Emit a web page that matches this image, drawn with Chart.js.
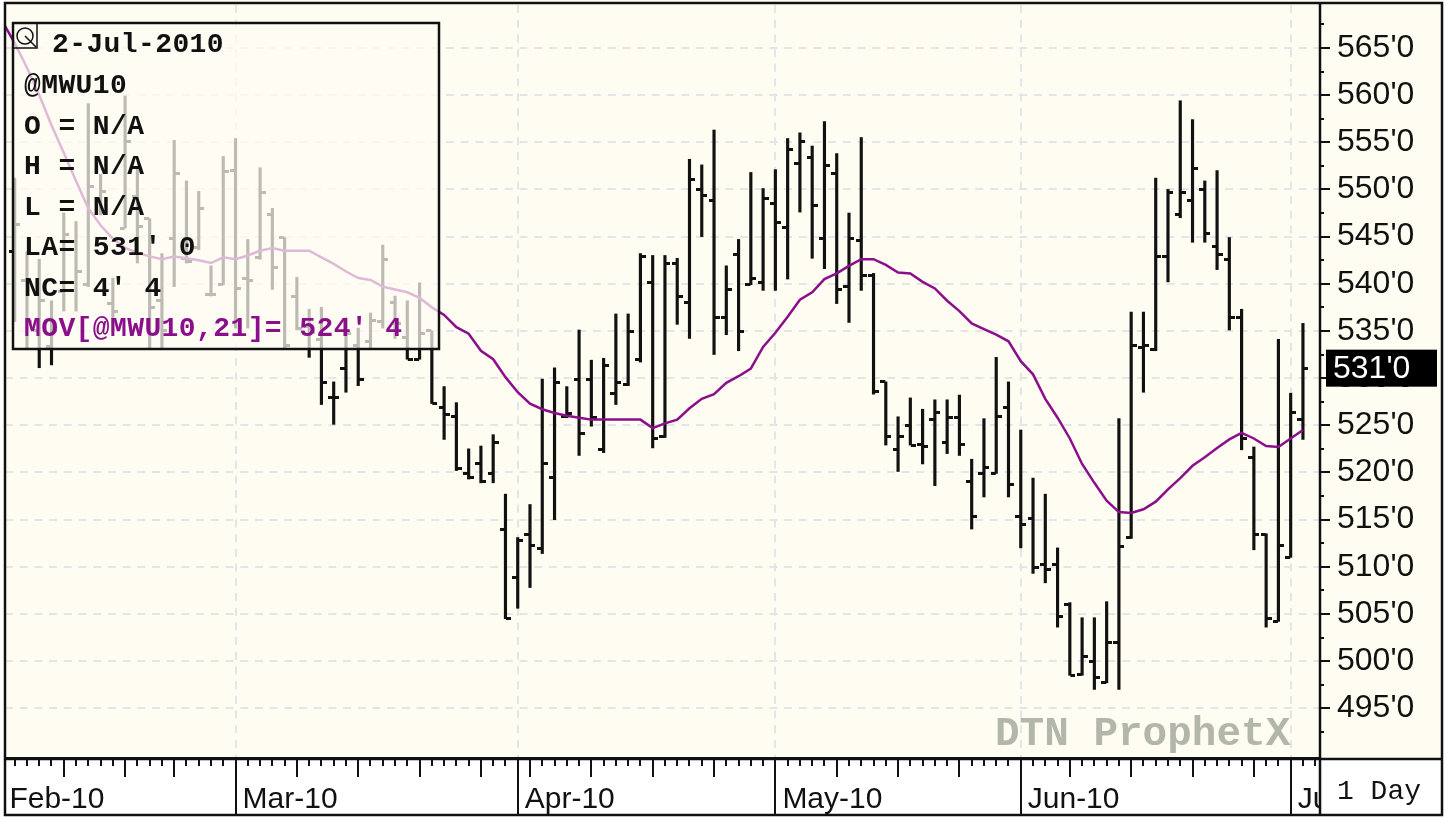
<!DOCTYPE html>
<html>
<head>
<meta charset="utf-8">
<title>@MWU10 daily</title>
<script src="https://cdn.jsdelivr.net/npm/chart.js@4"></script>
<style>
  html, body { margin: 0; padding: 0; background: #fff; }
  canvas { display: block; }
</style>
</head>
<body>
<canvas id="priceChart" width="1450" height="817"></canvas>
<script>
// Daily bars. Day 0 is 1 Feb (off the left edge), first bar is day 1
const firstBar = 1;
const highs = [551.2,543.4,542.6,538.2,547.5,546.6,559.1,551.6,540.6,559.9,552.2,546.9,543.2,555.2,550.9,549.8,541.9,553.5,555.4,544.7,552.3,548,544.9,540.7,537.3,537.5,529.6,536.4,535.3,536.9,544.1,538.7,538.2,540.1,535,529.1,527.4,522.5,522.8,524,517.7,513.1,516.6,529.9,531.1,529.1,535.1,531.9,532.1,536.8,536.8,543.2,543,543,542.7,553.2,552.6,556.3,541.9,544.7,551.8,550.1,552.1,555.4,556,554.6,557.2,553.8,547.5,555.5,541.1,529.6,525.9,527.9,526.7,527.7,527.7,528.2,521.4,525.7,532.2,529.6,524.5,519.4,517.7,512,506.2,504.6,504.6,506.3,525.7,537,537,551.2,550,559.4,557.4,550.9,552,544.9,537.3,522.7,513.5,534.1,528.4,535.8];
const lows = [536,533.1,531.1,531.4,537.1,537.1,539.7,547.3,535,545.9,542.2,533.2,533.2,539.7,542.2,543.6,538.7,539.9,535.3,535.3,542.6,539.4,533.2,535.1,532.2,527.2,525.1,528.5,529.2,533.2,535.3,534.2,532,532,527.3,523.5,520.2,519.3,518.9,518.9,504.5,505.6,507.8,511.4,515,525.8,521.8,524.9,522.1,527.2,529.2,531.7,522.6,523.7,535.7,534.2,545,532.5,534.6,532.9,539.9,539.3,539.3,540.5,547.6,542.7,541.6,537.9,535.9,539.3,528.3,522.9,520.1,522.9,520.9,518.6,522,521.8,514,517.4,519.9,517.4,512,509.3,508.3,503.6,498.5,498.5,497,497.7,497,513,528.5,532.9,540.2,547,544.4,544.4,541.5,535.1,522.4,511.8,503.6,504.2,511,523.5];
const opens = [543.4,540.3,535,533.4,539.2,544.5,539.9,548.7,537.9,545.9,549.3,546.9,538.2,544.8,542.7,543.8,538.9,539.9,552,540.6,542.8,547.3,544.9,538.7,535.5,534.1,527.9,531,533.5,533.9,536,538,534.3,532,535,526.9,525.9,519.9,521,519.9,513.9,508.9,513.4,511.9,519.5,525.9,529.8,529.8,522.4,528.4,529.3,532,540.1,523.8,542.1,538,550,548.8,536.4,543.1,539.9,540.1,548.5,546,552.7,553.4,544.8,551.7,539.7,544.6,540.9,529.6,522.4,525,523,525.6,523.2,525.8,519,519.9,519.9,526.9,515.3,515.1,510.2,510.2,506,498.6,500,497.7,502,513.1,533.2,533,542.9,547.3,548.8,550,544,542.6,536.4,521.6,513.4,504.2,511,525.6];
const closes = [546.3,536,538.2,535,545.2,541.3,550.3,549.8,537.1,555.1,546.1,537.5,535,551.7,542.4,548,538.9,551.9,539.5,540.3,549.7,541.7,533.5,535.3,534.8,529.5,527.9,534.7,529.8,536.1,542.6,535.8,532,534.7,527.3,526.1,520.4,519.5,519,523.2,504.5,512.8,512.3,521,529.5,526.3,524.1,525.8,531.3,529.5,534.9,542.9,523.6,542.1,538.6,551,549.4,536.4,539.4,534.9,540.6,549,546.5,554.2,555.1,548.3,552.5,539.4,544.8,540.9,528.6,523.8,523.8,522.9,522.7,526.4,525.8,523,515.3,520.5,525.9,518.7,514.5,509.9,509.7,504.7,498.5,500.5,498.3,502,512.1,533.5,533.5,542.9,549.7,549.7,552.2,545.3,543.1,536.4,523.6,513.4,504.5,512.3,526.4,531];

// 21 day moving average, starts one day before the first bar
const movAvg = [567.8,565.5,562.9,560,556.8,553.9,550.9,548,546.2,544.8,543.8,543.3,542.9,542.6,542.9,542.7,542.5,542.2,542.8,542.6,543,543.5,543.8,543.5,543.5,543.5,542.8,542.1,541.3,540.6,540.4,539.7,539.4,539.1,538.5,537.5,536.7,535.4,534.7,532.9,532,530.1,528.5,527.3,526.7,526.3,526,525.8,525.6,525.6,525.6,525.6,525.6,524.7,525.2,525.6,526.8,527.8,528.3,529.5,530.2,531,533.3,534.8,536.5,538.3,539.1,540.5,541.1,541.9,542.6,542.6,542,541.2,541.1,540.2,539.5,538.2,537.1,535.8,535.2,534.6,533.9,531.8,530.4,527.8,525.8,523.6,520.9,518.9,517,515.8,515.7,516.1,516.9,518.2,519.4,520.7,521.6,522.6,523.5,524.2,523.6,522.8,522.7,523.6,524.5];

// Axis ticks
const priceTicks = [495,500,505,510,515,520,525,530,535,540,545,550,555,560,565];
const monthDays = [0,19,42,63,83,105];
const monthNames = ["Feb-10","Mar-10","Apr-10","May-10","Jun-10","Jul-10"];
const weekDays = [5,10,14,24,29,34,39,43,48,53,58,68,73,78,87,92,97,102];
const lastDayTick = 107;

// Read-out box text
const infoLines = ["@MWU10","O = N/A","H = N/A","L = N/A","LA= 531' 0","NC= 4' 4"];
const infoDate = "2-Jul-2010";
const infoMov = "MOV[@MWU10,21]= 524' 4";

const CREAM = "#fffcf2";
const GRID = "#e3e6e8";
const INK = "#111111";
const PURPLE = "#8b0f8b";

// open tick sits left of the stem, close tick right of it
function makeTick(side) {
    const c = document.createElement("canvas");
    c.width = 11;
    c.height = 3;
    const g = c.getContext("2d");
    g.fillStyle = INK;
    g.fillRect(side === "left" ? 0 : 6, 0, 5, 3);
    return c;
}

function priceLabel(v) {
    return Math.round(v) + "'0";
}

const framePlugin = {
    id: "frame",
    beforeDraw(chart) {
        const ctx = chart.ctx;
        const a = chart.chartArea;
        ctx.save();
        ctx.fillStyle = "#ffffff";
        ctx.fillRect(0, 0, 1450, 817);
        ctx.fillStyle = CREAM;
        ctx.fillRect(a.left, 0, 1442 - a.left, a.bottom);
        ctx.restore();
    },
    beforeDatasetsDraw(chart) {
        const ctx = chart.ctx;
        ctx.save();
        ctx.font = "bold 41px 'Liberation Mono'";
        ctx.fillStyle = "#b3b7ab";
        ctx.textBaseline = "alphabetic";
        ctx.fillText("DTN ProphetX", 995, 745);
        ctx.restore();
    },
    afterDatasetsDraw(chart) {
        // see-through read-out box over the bars
        const ctx = chart.ctx;
        ctx.save();
        ctx.fillStyle = "rgba(255,252,242,0.72)";
        ctx.fillRect(13, 23, 426, 326);
        ctx.strokeStyle = INK;
        ctx.lineWidth = 2.5;
        ctx.strokeRect(13, 23, 426, 326);

        ctx.lineWidth = 1.5;
        ctx.strokeRect(13, 23, 24, 25);
        ctx.beginPath();
        ctx.arc(25, 36, 8, 0, Math.PI * 2);
        ctx.moveTo(25, 36);
        ctx.lineTo(36, 47);
        ctx.stroke();

        ctx.font = "bold 28px 'Liberation Mono'";
        ctx.letterSpacing = "0.4px";
        ctx.textBaseline = "alphabetic";
        ctx.fillStyle = INK;
        ctx.fillText(infoDate, 52, 52);
        infoLines.forEach((line, i) => {
            ctx.fillText(line, 24, 93 + i * 40.5);
        });
        ctx.fillStyle = PURPLE;
        ctx.fillText(infoMov, 24, 336);
        ctx.restore();
    },
    afterDraw(chart) {
        const ctx = chart.ctx;
        const a = chart.chartArea;
        const xs = chart.scales.x;
        const ys = chart.scales.y;
        ctx.save();

        // covers the tail of the last month label
        ctx.fillStyle = "#ffffff";
        ctx.fillRect(a.right, a.bottom, 1442 - a.right, 817 - a.bottom);

        ctx.strokeStyle = INK;
        ctx.lineWidth = 2;
        ctx.beginPath();
        for (let d = 1; d <= lastDayTick; d++) {
            const x = Math.round(xs.getPixelForValue(d));
            let end = a.bottom + 8;
            if (weekDays.includes(d)) end = a.bottom + 19;
            ctx.moveTo(x, a.bottom);
            ctx.lineTo(x, end);
        }
        monthDays.slice(1).forEach(d => {
            const x = Math.round(xs.getPixelForValue(d));
            ctx.moveTo(x, a.bottom);
            ctx.lineTo(x, 815);
        });
        // half way price ticks
        priceTicks.forEach(v => {
            const y = Math.round(ys.getPixelForValue(v - 2.5));
            ctx.moveTo(a.right, y);
            ctx.lineTo(a.right + 4, y);
        });
        const topMinor = Math.round(ys.getPixelForValue(567.5));
        ctx.moveTo(a.right, topMinor);
        ctx.lineTo(a.right + 4, topMinor);
        ctx.stroke();

        // last price badge
        const lastPrice = closes[closes.length - 1];
        const by = ys.getPixelForValue(lastPrice);
        ctx.fillStyle = "#000000";
        ctx.fillRect(1326, by - 19, 111, 37);
        ctx.fillStyle = "#ffffff";
        ctx.font = "32px 'Liberation Sans'";
        ctx.textBaseline = "middle";
        ctx.fillText(priceLabel(lastPrice), 1333, by + 1);

        ctx.fillStyle = INK;
        ctx.font = "28px 'Liberation Mono'";
        ctx.textBaseline = "alphabetic";
        ctx.fillText("1 Day", 1337, 799);

        // outer frame and panel lines
        ctx.lineWidth = 2.5;
        ctx.strokeRect(5, 3, 1437, 812);
        ctx.beginPath();
        ctx.moveTo(a.right, 3);
        ctx.lineTo(a.right, 815);
        ctx.moveTo(5, a.bottom + 1);
        ctx.lineTo(1442, a.bottom + 1);
        ctx.stroke();
        ctx.restore();
    }
};

new Chart(document.getElementById("priceChart"), {
    data: {
        datasets: [
            {
                type: "line",
                label: "MOV[@MWU10,21]",
                data: movAvg.map((v, i) => ({ x: i, y: v })),
                borderColor: PURPLE,
                borderWidth: 2.5,
                pointRadius: 0,
                tension: 0,
                order: 1
            },
            {
                type: "line",
                label: "Open",
                data: opens.map((v, i) => ({ x: i + firstBar, y: v })),
                showLine: false,
                pointStyle: makeTick("left"),
                pointRadius: 3,
                order: 2
            },
            {
                type: "line",
                label: "Close",
                data: closes.map((v, i) => ({ x: i + firstBar, y: v })),
                showLine: false,
                pointStyle: makeTick("right"),
                pointRadius: 3,
                order: 2
            },
            {
                type: "bar",
                label: "@MWU10",
                data: highs.map((v, i) => ({ x: i + firstBar, y: [lows[i], v] })),
                backgroundColor: INK,
                barThickness: 2.5,
                order: 3
            }
        ]
    },
    options: {
        responsive: false,
        animation: false,
        events: [],
        layout: { padding: { left: 5, top: 3, right: 8, bottom: 2 } },
        plugins: { legend: { display: false }, tooltip: { enabled: false } },
        scales: {
            x: {
                type: "linear",
                offset: false,
                min: 0.21,
                max: 107.39,
                afterBuildTicks(s) {
                    s.ticks = monthDays.map(d => ({ value: d }));
                },
                afterFit(s) {
                    s.height = 57;
                    s.paddingLeft = 0;
                    s.paddingRight = 0;
                },
                grid: {
                    offset: false,
                    drawTicks: false,
                    lineWidth: 2,
                    color: c => (c.tick && c.tick.value === 0 ? "transparent" : GRID)
                },
                border: { color: INK, width: 2, dash: [8, 6.7] },
                ticks: {
                    autoSkip: false,
                    maxRotation: 0,
                    align: "start",
                    labelOffset: 7,
                    padding: 24,
                    color: INK,
                    font: { family: "'Liberation Sans'", size: 30 },
                    callback: v => monthNames[monthDays.indexOf(v)]
                }
            },
            y: {
                position: "right",
                min: 489.73,
                max: 569.55,
                afterBuildTicks(s) {
                    s.ticks = priceTicks.map(v => ({ value: v }));
                },
                afterFit(s) {
                    s.width = 122;
                    s.paddingTop = 0;
                    s.paddingBottom = 0;
                },
                grid: {
                    color: GRID,
                    lineWidth: 2,
                    tickColor: INK,
                    tickWidth: 2,
                    tickLength: 10
                },
                border: { color: INK, width: 2, dash: [8, 6.7] },
                ticks: {
                    autoSkip: false,
                    padding: 7,
                    color: INK,
                    font: { family: "'Liberation Sans'", size: 32 },
                    callback: priceLabel
                }
            }
        }
    },
    plugins: [framePlugin]
});
</script>
</body>
</html>
